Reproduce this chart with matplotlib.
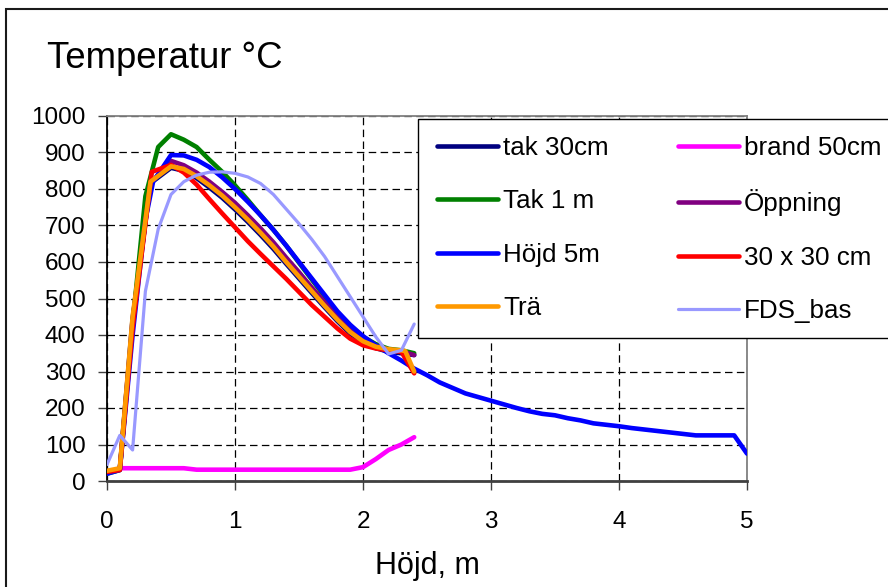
import matplotlib
matplotlib.use("Agg")
import matplotlib.pyplot as plt
from matplotlib.patches import Rectangle

plt.rcParams['font.family'] = ['Liberation Sans', 'DejaVu Sans']

# Temperature (°C) against height (m) for each simulation case
tak30_x = [0, 0.1, 0.2, 0.34, 0.5, 0.6, 0.7, 0.8, 0.9, 1.0, 1.1, 1.2, 1.3, 1.4, 1.5,
           1.6, 1.7, 1.8, 1.9, 2.0, 2.1, 2.2, 2.3, 2.4]
tak30_y = [22, 32, 445, 816, 858, 850, 830, 804, 776, 744, 710, 674, 636, 595, 555,
           515, 476, 438, 404, 380, 364, 354, 350, 345]

brand50_x = [0.1, 0.2, 0.3, 0.4, 0.5, 0.6, 0.7, 0.8, 1.0, 1.2, 1.4, 1.6, 1.8, 1.9,
             2.0, 2.1, 2.2, 2.3, 2.4]
brand50_y = [35, 35, 35, 35, 35, 35, 31, 31, 31, 31, 31, 31, 31, 31,
             38, 60, 85, 100, 120]

tak1m_x = [0, 0.1, 0.2, 0.3, 0.4, 0.5, 0.6, 0.7, 0.8, 0.9, 1.0, 1.1, 1.2, 1.3, 1.4,
           1.5, 1.6, 1.7, 1.8, 1.9, 2.0, 2.1, 2.2, 2.3, 2.4]
tak1m_y = [20, 30, 430, 780, 915, 950, 935, 915, 880, 847, 810, 770, 728, 688, 645,
           598, 552, 506, 462, 425, 395, 375, 362, 358, 350]

oppning_x = [0, 0.1, 0.2, 0.34, 0.5, 0.6, 0.7, 0.8, 0.9, 1.0, 1.1, 1.2, 1.3, 1.4,
             1.5, 1.6, 1.7, 1.8, 1.9, 2.0, 2.1, 2.2, 2.3, 2.4]
oppning_y = [22, 32, 440, 815, 877, 865, 845, 820, 792, 762, 728, 692, 654, 612,
             572, 530, 490, 452, 415, 388, 370, 360, 355, 345]

hojd5m_x = [0, 0.1, 0.2, 0.3, 0.36, 0.5, 0.6, 0.7, 0.8, 0.9, 1.0, 1.1, 1.2, 1.3, 1.4,
            1.5, 1.6, 1.7, 1.8, 1.9, 2.0, 2.1, 2.2, 2.3, 2.4, 2.5, 2.6, 2.7, 2.8,
            2.9, 3.0, 3.1, 3.2, 3.3, 3.4, 3.5, 3.6, 3.7, 3.8, 3.9, 4.0, 4.1, 4.2,
            4.3, 4.4, 4.5, 4.6, 4.7, 4.8, 4.9, 5.0]
hojd5m_y = [20, 30, 400, 715, 820, 893, 892, 880, 860, 832, 800, 765, 728, 688, 645,
            600, 555, 510, 465, 428, 397, 372, 350, 330, 308, 290, 270, 255, 240,
            230, 220, 210, 200, 191, 184, 180, 172, 166, 158, 154, 150, 145, 141,
            137, 133, 129, 125, 125, 125, 125, 75]

x30_x = [0, 0.1, 0.2, 0.35, 0.5, 0.6, 0.7, 0.8, 0.9, 1.0, 1.1, 1.2, 1.3, 1.4, 1.5,
         1.6, 1.7, 1.8, 1.9, 2.0, 2.1, 2.2, 2.3, 2.4]
x30_y = [25, 30, 420, 847, 866, 845, 812, 772, 733, 695, 657, 622, 588, 554, 518,
         482, 450, 418, 390, 372, 363, 358, 354, 295]

tra_x = [0, 0.1, 0.2, 0.34, 0.5, 0.6, 0.7, 0.8, 0.9, 1.0, 1.1, 1.2, 1.3, 1.4, 1.5,
         1.6, 1.7, 1.8, 1.9, 2.0, 2.1, 2.2, 2.3, 2.33, 2.4]
tra_y = [28, 35, 450, 820, 862, 855, 835, 810, 782, 750, 716, 680, 642, 600, 560,
         520, 480, 442, 408, 383, 368, 361, 358, 356, 300]

fds_x = [0, 0.1, 0.2, 0.3, 0.4, 0.5, 0.6, 0.7, 0.8, 0.9, 1.0, 1.1, 1.2, 1.3, 1.4,
         1.5, 1.6, 1.7, 1.8, 1.9, 2.0, 2.1, 2.2, 2.3, 2.4]
fds_y = [45, 125, 85, 520, 690, 785, 820, 838, 846, 847, 843, 833, 815, 785, 745,
         705, 662, 615, 560, 505, 450, 395, 348, 358, 430]

x_ticks = [0, 1, 2, 3, 4, 5]
y_ticks = list(range(0, 1001, 100))

W, H = 888, 587
fig = plt.figure(figsize=(W / 100, H / 100), dpi=100)


def fx(px):
    return px / W


def fy(py):
    return 1 - py / H


# outer chart border
fig.add_artist(Rectangle((fx(6), fy(620)), fx(920) - fx(6), (620 - 9) / H,
                         transform=fig.transFigure, fill=False,
                         edgecolor='#1a1a1a', lw=1.5, zorder=0))

ax = fig.add_axes([fx(107), fy(481), (747 - 107) / W, (481 - 116) / H])
ax.set_xlim(0, 5)
ax.set_ylim(0, 1000)
ax.set_xticks(x_ticks)
ax.set_yticks(y_ticks)
ax.set_axisbelow(True)
ax.grid(True, color='black', linestyle=(0, (6, 3.5)), lw=0.9)

for side, col, lw in [('left', 'black', 1.3), ('bottom', '#404040', 2.0),
                      ('top', '#808080', 1.3), ('right', '#808080', 1.3)]:
    ax.spines[side].set_color(col)
    ax.spines[side].set_linewidth(lw)

ax.tick_params(axis='both', direction='out', length=6.5, width=1, color='#404040',
               labelsize=17.5)
ax.tick_params(axis='x', pad=15)
ax.tick_params(axis='y', pad=9)

style = dict(lw=3.3, solid_capstyle='round', solid_joinstyle='round')
l_tak30, = ax.plot(tak30_x, tak30_y, color='#000080', label='tak 30cm', zorder=3, **style)
l_brand, = ax.plot(brand50_x, brand50_y, color='#FF00FF', label='brand 50cm', zorder=4, **style)
l_tak1, = ax.plot(tak1m_x, tak1m_y, color='#008000', label='Tak 1 m', zorder=5, **style)
l_opp, = ax.plot(oppning_x, oppning_y, color='#800080', label='Öppning', zorder=6, **style)
l_hojd, = ax.plot(hojd5m_x, hojd5m_y, color='#0000FF', label='Höjd 5m', zorder=7, **style)
l_x30, = ax.plot(x30_x, x30_y, color='#FF0000', label='30 x 30 cm', zorder=8, **style)
l_tra, = ax.plot(tra_x, tra_y, color='#FF9900', label='Trä', zorder=9, **style)
l_fds, = ax.plot(fds_x, fds_y, color='#9999FF', label='FDS_bas', zorder=10,
                 lw=2.3, solid_capstyle='round', solid_joinstyle='round')

# legend box
fig.add_artist(Rectangle((fx(418), fy(338)), fx(920) - fx(418), (338 - 119) / H,
                         transform=fig.transFigure, facecolor='white',
                         edgecolor='black', lw=1.0, zorder=4))
handles = [l_tak30, l_tak1, l_hojd, l_tra, l_brand, l_opp, l_x30, l_fds]
fig.legend(handles, [h.get_label() for h in handles], ncol=2, loc='upper left',
           bbox_to_anchor=(fx(437), fy(136)), frameon=False, borderpad=0,
           borderaxespad=0, handlelength=2.35, handletextpad=0.2,
           columnspacing=2.65, labelspacing=1.13, fontsize=18.7)

fig.text(fx(47), fy(68), 'Temperatur °C', fontsize=26.3, va='baseline', ha='left')
fig.text(fx(427), fy(574), 'Höjd, m', fontsize=22, va='baseline', ha='center')

fig.savefig('out.png', dpi=100)
